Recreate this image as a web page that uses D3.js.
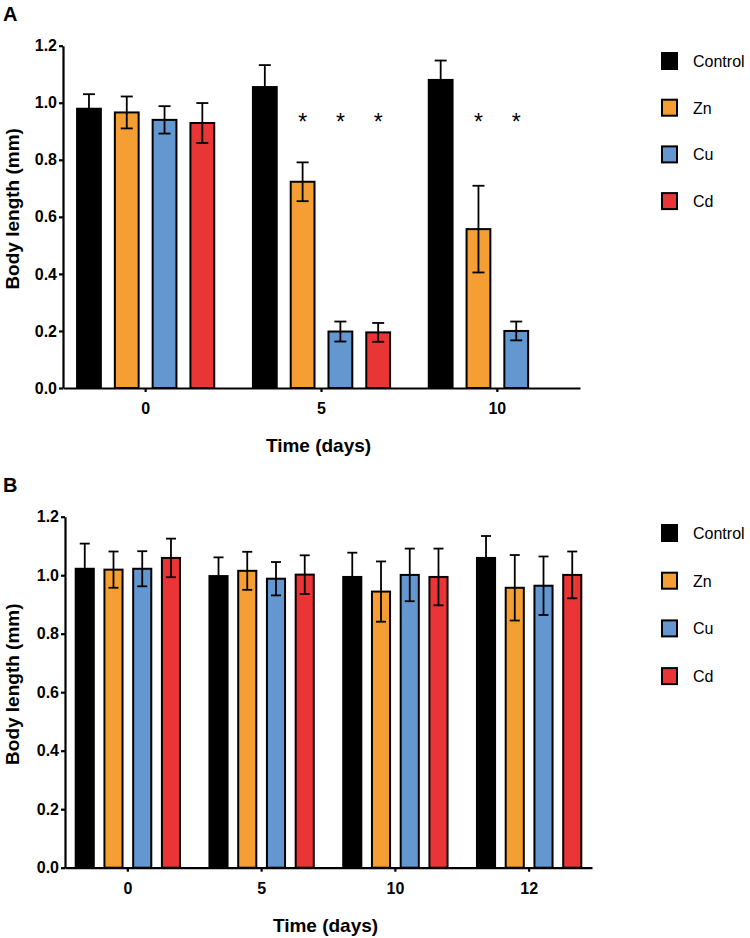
<!DOCTYPE html>
<html>
<head>
<meta charset="utf-8">
<script src="https://cdn.jsdelivr.net/npm/d3@7"></script>
<style>
	body { margin: 0; background: #fff; }
	text { font-family: Arial, 'Liberation Sans', sans-serif; }
</style>
</head>
<body>
<div id="chart"></div>
<script>
// Body length data

const series = ['Control', 'Zn', 'Cu', 'Cd']
const colors = ['#000000', '#F59E33', '#6497CF', '#EA3537']
const yTicks = [0, 0.2, 0.4, 0.6, 0.8, 1.0, 1.2]

// panel A
const daysA = ['0', '5', '10']
const meanA = [
	[0.979, 0.966, 0.940, 0.929],
	[1.055, 0.723, 0.198, 0.195],
	[1.080, 0.557, 0.200, null],
]
const errA = [
	[0.051, 0.056, 0.048, 0.070],
	[0.077, 0.068, 0.035, 0.033],
	[0.068, 0.152, 0.033, null],
]
// asterisks: [day, series]
const starsA = [['5', 'Zn'], ['5', 'Cu'], ['5', 'Cd'], ['10', 'Zn'], ['10', 'Cu']]
const starLevel = 0.95

// panel B
const daysB = ['0', '5', '10', '12']
const meanB = [
	[1.022, 1.019, 1.022, 1.059],
	[0.997, 1.015, 0.988, 1.002],
	[0.994, 0.944, 1.001, 0.994],
	[1.059, 0.957, 0.964, 1.001],
]
const errB = [
	[0.086, 0.062, 0.060, 0.066],
	[0.064, 0.065, 0.057, 0.066],
	[0.083, 0.103, 0.090, 0.097],
	[0.075, 0.112, 0.100, 0.080],
]

const svg = d3
	.select('#chart')
	.append('svg')
	.attr('width', 750)
	.attr('height', 938)

function drawPanel(opts) {
	const { letter, days, means, errs, stars, left, right, top, bottom, legendTop, legendStep, cap } = opts

	const x0 = d3
		.scaleBand()
		.domain(days)
		.range([left, right])
		.paddingInner(0.22)
		.paddingOuter(0.08)

	const x1 = d3
		.scaleBand()
		.domain(series)
		.range([0, x0.bandwidth()])
		.paddingInner(0.37)

	const y = d3.scaleLinear().domain([0, 1.2]).range([bottom, top])

	const g = svg.append('g')

	// panel letter
	g.append('text')
		.attr('x', 3)
		.attr('y', top - 25)
		.attr('font-size', 20)
		.attr('font-weight', 'bold')
		.text(letter)

	const rows = []
	days.forEach((d, i) => {
		series.forEach((s, j) => {
			if (means[i][j] != null) rows.push({ day: d, s, j, v: means[i][j], e: errs[i][j] })
		})
	})

	const cx = (d) => x0(d.day) + x1(d.s) + x1.bandwidth() / 2

	// error bars under the bars so the lower whisker hides in black bars
	const eb = g
		.selectAll('.err')
		.data(rows)
		.enter()
		.append('g')
		.attr('class', 'err')
		.attr('stroke', '#000')
		.attr('stroke-width', 1.8)

	eb.append('line')
		.attr('x1', cx)
		.attr('x2', cx)
		.attr('y1', (d) => y(d.v - d.e))
		.attr('y2', (d) => y(d.v + d.e))

	eb.append('line')
		.attr('x1', (d) => cx(d) - cap / 2)
		.attr('x2', (d) => cx(d) + cap / 2)
		.attr('y1', (d) => y(d.v + d.e))
		.attr('y2', (d) => y(d.v + d.e))

	g.selectAll('.bar')
		.data(rows)
		.enter()
		.append('rect')
		.attr('class', 'bar')
		.attr('x', (d) => x0(d.day) + x1(d.s))
		.attr('y', (d) => y(d.v))
		.attr('width', x1.bandwidth())
		.attr('height', (d) => y(0) - y(d.v))
		.attr('fill', (d) => colors[d.j])
		.attr('stroke', '#000')
		.attr('stroke-width', 2)

	// lower whiskers drawn over the coloured bars
	const eb2 = g
		.selectAll('.err2')
		.data(rows.filter((d) => d.j > 0))
		.enter()
		.append('g')
		.attr('stroke', '#000')
		.attr('stroke-width', 1.8)

	eb2.append('line')
		.attr('x1', cx)
		.attr('x2', cx)
		.attr('y1', (d) => y(d.v - d.e))
		.attr('y2', (d) => y(d.v))

	eb2.append('line')
		.attr('x1', (d) => cx(d) - cap / 2)
		.attr('x2', (d) => cx(d) + cap / 2)
		.attr('y1', (d) => y(d.v - d.e))
		.attr('y2', (d) => y(d.v - d.e))

	// significance stars
	g.selectAll('.star')
		.data(stars)
		.enter()
		.append('text')
		.attr('x', (d) => x0(d[0]) + x1(d[1]) + x1.bandwidth() / 2)
		.attr('y', y(starLevel) + 13)
		.attr('text-anchor', 'middle')
		.attr('font-size', 23)
		.text('*')

	// axes
	const yAxis = g
		.append('g')
		.attr('transform', `translate(${left},0)`)
		.call(d3.axisLeft(y).tickValues(yTicks).tickFormat(d3.format('.1f')).tickSize(4).tickSizeOuter(0).tickPadding(2))

	const xAxis = g
		.append('g')
		.attr('transform', `translate(0,${bottom})`)
		.call(d3.axisBottom(x0).tickSize(4).tickSizeOuter(0).tickPadding(11))

	;[yAxis, xAxis].forEach((a) => {
		a.selectAll('path, line').attr('stroke', '#000').attr('stroke-width', 2.2)
		a.selectAll('text').attr('font-size', 16).attr('font-weight', 'bold').attr('fill', '#000')
	})

	g.append('text')
		.attr('x', (left + right) / 2 - 3)
		.attr('y', bottom + 64)
		.attr('text-anchor', 'middle')
		.attr('font-size', 19)
		.attr('font-weight', 'bold')
		.text('Time (days)')

	g.append('text')
		.attr('transform', `translate(19,${(top + bottom) / 2 - 8}) rotate(-90)`)
		.attr('text-anchor', 'middle')
		.attr('font-size', 19)
		.attr('font-weight', 'bold')
		.text('Body length (mm)')

	// legend
	const lg = g
		.selectAll('.leg')
		.data(series)
		.enter()
		.append('g')
		.attr('transform', (d, i) => `translate(662,${legendTop + i * legendStep})`)

	lg.append('rect')
		.attr('width', 15)
		.attr('height', 16)
		.attr('fill', (d, i) => colors[i])
		.attr('stroke', '#000')
		.attr('stroke-width', 2)

	lg.append('text')
		.attr('x', 31)
		.attr('y', 14)
		.attr('font-size', 16)
		.text((d) => d)
}

drawPanel({
	letter: 'A', days: daysA, means: meanA, errs: errA, stars: starsA,
	left: 63, right: 580, top: 45.7, bottom: 388,
	legendTop: 53, legendStep: 46.7, cap: 12,
})

drawPanel({
	letter: 'B', days: daysB, means: meanB, errs: errB, stars: [],
	left: 65, right: 592, top: 516.7, bottom: 867.7,
	legendTop: 525, legendStep: 47.7, cap: 10,
})
</script>
</body>
</html>
